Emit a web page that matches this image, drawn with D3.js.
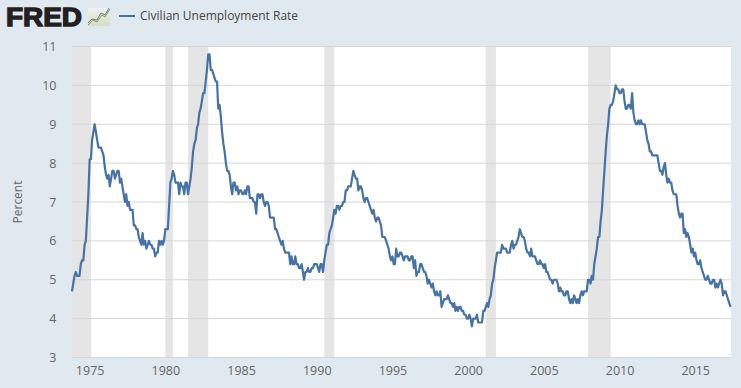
<!DOCTYPE html>
<html><head><meta charset="utf-8">
<script src="https://cdn.jsdelivr.net/npm/d3@7"></script>
<style>html,body{margin:0;padding:0;background:#e1e9f0;overflow:hidden}svg{display:block}text{font-family:"Open Sans",sans-serif}</style>
</head><body><svg id="c" width="741" height="388"></svg>
<script>
const startMonth = "1973-11";
const endMonth = "2017-05";
const unrate = [
4.7,4.9,
5.1,5.2,5.1,5.1,5.1,5.4,5.5,5.5,5.9,6.0,6.6,7.2,
8.1,8.1,8.6,8.8,9.0,8.8,8.6,8.4,8.4,8.4,8.3,8.2,
7.9,7.7,7.6,7.7,7.4,7.6,7.8,7.8,7.6,7.7,7.8,7.8,
7.5,7.6,7.4,7.2,7.0,7.2,6.9,7.0,6.8,6.8,6.8,6.4,
6.4,6.3,6.3,6.1,6.0,5.9,6.2,5.9,6.0,5.8,5.9,6.0,
5.9,5.9,5.8,5.8,5.6,5.7,5.7,6.0,5.9,6.0,5.9,6.0,
6.3,6.3,6.3,6.9,7.5,7.6,7.8,7.7,7.5,7.5,7.5,7.2,
7.5,7.4,7.4,7.2,7.5,7.5,7.2,7.4,7.6,7.9,8.3,8.5,
8.6,8.9,9.0,9.3,9.4,9.6,9.8,9.8,10.1,10.4,10.8,10.8,
10.4,10.4,10.3,10.2,10.1,10.1,9.4,9.5,9.2,8.8,8.5,8.3,
8.0,7.8,7.8,7.7,7.4,7.2,7.5,7.5,7.3,7.4,7.2,7.3,
7.3,7.2,7.2,7.3,7.2,7.4,7.4,7.1,7.1,7.1,7.0,7.0,
6.7,7.2,7.2,7.1,7.2,7.2,7.0,6.9,7.0,7.0,6.9,6.6,
6.6,6.6,6.6,6.3,6.3,6.2,6.1,6.0,5.9,6.0,5.8,5.7,
5.7,5.7,5.7,5.4,5.6,5.4,5.4,5.6,5.4,5.4,5.3,5.3,
5.4,5.2,5.0,5.2,5.2,5.3,5.2,5.2,5.3,5.3,5.4,5.4,
5.4,5.3,5.2,5.4,5.4,5.2,5.5,5.7,5.9,5.9,6.2,6.3,
6.4,6.6,6.8,6.7,6.9,6.9,6.8,6.9,6.9,7.0,7.0,7.3,
7.3,7.4,7.4,7.4,7.6,7.8,7.7,7.6,7.6,7.3,7.4,7.4,
7.3,7.1,7.0,7.1,7.1,7.0,6.9,6.8,6.7,6.8,6.6,6.5,
6.6,6.6,6.5,6.4,6.1,6.1,6.1,6.0,5.9,5.8,5.6,5.5,
5.6,5.4,5.4,5.8,5.6,5.6,5.7,5.7,5.6,5.5,5.6,5.6,
5.6,5.5,5.5,5.6,5.6,5.3,5.5,5.1,5.2,5.2,5.4,5.4,
5.3,5.2,5.2,5.1,4.9,5.0,4.9,4.8,4.9,4.7,4.6,4.7,
4.6,4.6,4.7,4.3,4.4,4.5,4.5,4.5,4.6,4.5,4.4,4.4,
4.3,4.4,4.2,4.3,4.2,4.3,4.3,4.2,4.2,4.1,4.1,4.0,
4.0,4.1,4.0,3.8,4.0,4.0,4.0,4.1,3.9,3.9,3.9,3.9,
4.2,4.2,4.3,4.4,4.3,4.5,4.6,4.9,5.0,5.3,5.5,5.7,
5.7,5.7,5.7,5.9,5.8,5.8,5.8,5.7,5.7,5.7,5.9,6.0,
5.8,5.9,5.9,6.0,6.1,6.3,6.2,6.1,6.1,6.0,5.8,5.7,
5.7,5.6,5.8,5.6,5.6,5.6,5.5,5.4,5.4,5.5,5.4,5.4,
5.3,5.4,5.2,5.2,5.1,5.0,5.0,4.9,5.0,5.0,5.0,4.9,
4.7,4.8,4.7,4.7,4.6,4.6,4.7,4.7,4.5,4.4,4.5,4.4,
4.6,4.5,4.4,4.5,4.4,4.6,4.7,4.6,4.7,4.7,4.7,5.0,
5.0,4.9,5.1,5.0,5.4,5.6,5.8,6.1,6.1,6.5,6.8,7.3,
7.8,8.3,8.7,9.0,9.4,9.5,9.5,9.6,9.8,10.0,9.9,9.9,
9.8,9.8,9.9,9.9,9.6,9.4,9.4,9.5,9.5,9.4,9.8,9.3,
9.1,9.0,9.0,9.1,9.0,9.1,9.0,9.0,9.0,8.8,8.6,8.5,
8.3,8.3,8.2,8.2,8.2,8.2,8.2,8.0,7.8,7.8,7.7,7.9,
8.0,7.7,7.5,7.6,7.5,7.5,7.3,7.2,7.2,7.2,6.9,6.7,
6.6,6.7,6.7,6.2,6.3,6.1,6.2,6.1,5.9,5.7,5.8,5.6,
5.7,5.5,5.4,5.4,5.5,5.3,5.2,5.1,5.0,5.0,5.1,5.0,
4.9,4.9,5.0,5.0,4.8,4.9,4.8,4.9,5.0,4.9,4.6,4.7,
4.7,4.6,4.5,4.4,4.3];
const recessionStarts = ["1973-11","1980-01","1981-07","1990-07","2001-03","2007-12"];
const recessionEnds   = ["1975-02","1980-07","1982-11","1991-03","2001-11","2009-06"];
const yTicks = [3,4,5,6,7,8,9,10,11];
const xTickYears = [1975,1980,1985,1990,1995,2000,2005,2010,2015];
const seriesName = "Civilian Unemployment Rate";
const yTitle = "Percent";
const logoText = "FRED";

const parse = d3.utcParse("%Y-%m");
const dates = unrate.map((_, i) => d3.utcMonth.offset(parse(startMonth), i));
const L = 72, R = 730.5, T = 46.5, B = 357.5;
const x = d3.scaleUtc().domain([parse(startMonth), parse(endMonth)]).range([L, R]);
const y = d3.scaleLinear().domain([3, 11]).range([B, T]);
const svg = d3.select("#c");

svg.append("rect").attr("x", L).attr("y", T).attr("width", R - L + 0.5).attr("height", B - T).attr("fill", "#fff");

svg.append("g").selectAll("rect").data(recessionStarts).join("rect")
  .attr("x", d => x(parse(d)))
  .attr("width", (d, i) => x(parse(recessionEnds[i])) - x(parse(d)))
  .attr("y", T).attr("height", B - T).attr("fill", "#e5e5e5");

const yAxis = d3.axisLeft(y).tickValues(yTicks).tickSize(0).tickPadding(0).tickFormat(d3.format("d"));
const gy = svg.append("g").attr("transform", `translate(${L},0)`).call(yAxis);
gy.select(".domain").remove();
gy.selectAll("text").attr("x", -15.5).attr("font-size", 12.5).attr("fill", "#666").style("font-family", '"Open Sans",sans-serif');
svg.append("g").selectAll("line").data(yTicks).join("line")
  .attr("x1", L).attr("x2", R + 0.5).attr("y1", d => y(d)).attr("y2", d => y(d))
  .attr("stroke", "#d6d6d6").attr("stroke-width", 1);

const xAxis = d3.axisBottom(x).tickValues(xTickYears.map(v => new Date(Date.UTC(v, 0, 1))))
  .tickSize(0).tickPadding(0).tickFormat(d3.utcFormat("%Y"));
const gx = svg.append("g").attr("transform", `translate(0,${B})`).call(xAxis);
gx.select(".domain").remove();
gx.selectAll("text").attr("y", 9).attr("font-size", 12.5).attr("fill", "#666").style("font-family", '"Open Sans",sans-serif');

const line = d3.line().x((d, i) => x(dates[i])).y(d => y(d)).curve(d3.curveLinear);
svg.append("path").datum(unrate).attr("d", line).attr("fill", "none")
  .attr("stroke", "#4572a7").attr("stroke-width", 2.2).attr("stroke-linejoin", "round");

svg.append("text").attr("transform", "translate(22,202) rotate(-90)").attr("text-anchor", "middle")
  .attr("font-size", 12).attr("fill", "#666").text(yTitle);

svg.append("text").attr("x", 6).attr("y", 26).attr("font-size", 25)
  .attr("font-weight", 700).style("font-family", '"Liberation Sans",sans-serif')
  .attr("fill", "#231f20").attr("stroke", "#231f20").attr("stroke-width", 1.3)
  .attr("textLength", 76).attr("lengthAdjust", "spacingAndGlyphs").text(logoText);

const defs = svg.append("defs");
const grad = defs.append("linearGradient").attr("id", "ig").attr("x1", 0).attr("y1", 0).attr("x2", 0).attr("y2", 1);
grad.append("stop").attr("offset", 0).attr("stop-color", "#eef1f0");
grad.append("stop").attr("offset", 1).attr("stop-color", "#d6dcc4");
const ic = svg.append("g").attr("transform", "translate(88,8)");
ic.append("rect").attr("width", 22).attr("height", 18).attr("fill", "url(#ig)");
ic.append("polyline").attr("points", "0,17 5,12 9,14 14,7 17,9 22,1").attr("fill", "none").attr("stroke", "#7d9a6a").attr("stroke-width", 1);
ic.append("polyline").attr("points", "0,15 4,11 9,12 13,5 17,7 21,0").attr("fill", "none").attr("stroke", "#777").attr("stroke-width", 1);

svg.append("line").attr("x1", 119).attr("x2", 135).attr("y1", 16).attr("y2", 16)
  .attr("stroke", "#4572a7").attr("stroke-width", 2);
svg.append("text").attr("x", 140).attr("y", 20).attr("font-size", 12).attr("fill", "#444").text(seriesName);
</script></body></html>
